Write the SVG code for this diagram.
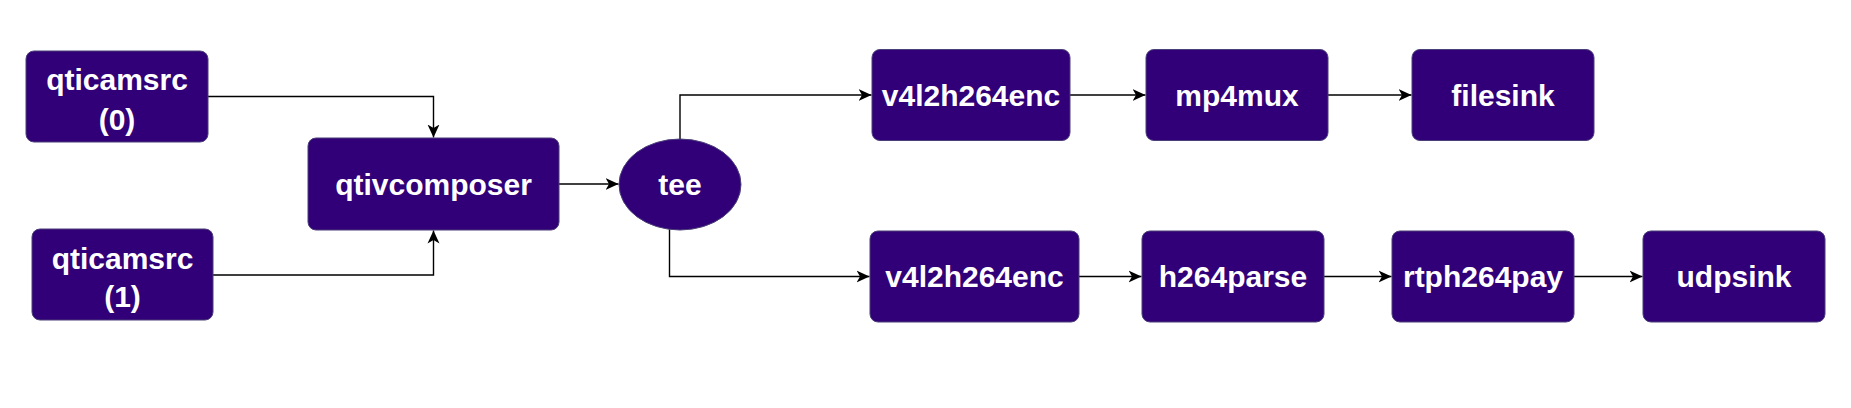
<svg xmlns="http://www.w3.org/2000/svg" width="1851" height="408" viewBox="0 0 1851 408">
<style>
.box{fill:#310079;stroke:#4a3f78;stroke-width:1}
.lbl{font-family:"Liberation Sans",Arial,sans-serif;font-weight:bold;font-size:30px;fill:#ffffff;text-anchor:middle}
.edge{fill:none;stroke:#000000;stroke-width:1.4}
</style>
<defs>
<marker id="arr" viewBox="0 0 14 14" refX="13" refY="7" markerWidth="14" markerHeight="14" markerUnits="userSpaceOnUse" orient="auto">
<path d="M0,1 L13,7 L0,13 L3.5,7 Z" fill="#000000"/>
</marker>
</defs>
<rect width="1851" height="408" fill="#ffffff"/>
<g id="connectors">
<path class="edge" d="M208,96.5 H433.5 V137.5" marker-end="url(#arr)"/>
<path class="edge" d="M213,275 H433.5 V230.5" marker-end="url(#arr)"/>
<path class="edge" d="M559,184 H618.5" marker-end="url(#arr)"/>
<path class="edge" d="M680,139 V95 H871.5" marker-end="url(#arr)"/>
<path class="edge" d="M669.5,229.2 V276.5 H869.5" marker-end="url(#arr)"/>
<path class="edge" d="M1070,95 H1145.5" marker-end="url(#arr)"/>
<path class="edge" d="M1328,95 H1411.5" marker-end="url(#arr)"/>
<path class="edge" d="M1079,276.5 H1141.5" marker-end="url(#arr)"/>
<path class="edge" d="M1324,276.5 H1391.5" marker-end="url(#arr)"/>
<path class="edge" d="M1574,276.5 H1642.5" marker-end="url(#arr)"/>
</g>
<g id="qticamsrc0">
<rect class="box" x="26" y="51" width="182" height="91" rx="8"/>
<text class="lbl" x="117" y="90">qticamsrc</text>
<text class="lbl" x="117" y="129.5">(0)</text>
</g>
<g id="qticamsrc1">
<rect class="box" x="32" y="229" width="181" height="91" rx="8"/>
<text class="lbl" x="122.5" y="268.5">qticamsrc</text>
<text class="lbl" x="122.5" y="307">(1)</text>
</g>
<g id="qtivcomposer">
<rect class="box" x="308" y="138" width="251" height="92" rx="8"/>
<text class="lbl" x="433.5" y="194.5">qtivcomposer</text>
</g>
<g id="tee">
<ellipse class="box" cx="680" cy="184.5" rx="61" ry="45.5"/>
<text class="lbl" x="680" y="195">tee</text>
</g>
<g id="v4l2h264enc_top">
<rect class="box" x="872" y="49.5" width="198" height="91" rx="8"/>
<text class="lbl" x="971" y="105.5">v4l2h264enc</text>
</g>
<g id="mp4mux">
<rect class="box" x="1146" y="49.5" width="182" height="91" rx="8"/>
<text class="lbl" x="1237" y="105.5">mp4mux</text>
</g>
<g id="filesink">
<rect class="box" x="1412" y="49.5" width="182" height="91" rx="8"/>
<text class="lbl" x="1503" y="105.5">filesink</text>
</g>
<g id="v4l2h264enc_bottom">
<rect class="box" x="870" y="231" width="209" height="91" rx="8"/>
<text class="lbl" x="974.5" y="287">v4l2h264enc</text>
</g>
<g id="h264parse">
<rect class="box" x="1142" y="231" width="182" height="91" rx="8"/>
<text class="lbl" x="1233" y="287">h264parse</text>
</g>
<g id="rtph264pay">
<rect class="box" x="1392" y="231" width="182" height="91" rx="8"/>
<text class="lbl" x="1483" y="287">rtph264pay</text>
</g>
<g id="udpsink">
<rect class="box" x="1643" y="231" width="182" height="91" rx="8"/>
<text class="lbl" x="1734" y="287">udpsink</text>
</g>
</svg>
